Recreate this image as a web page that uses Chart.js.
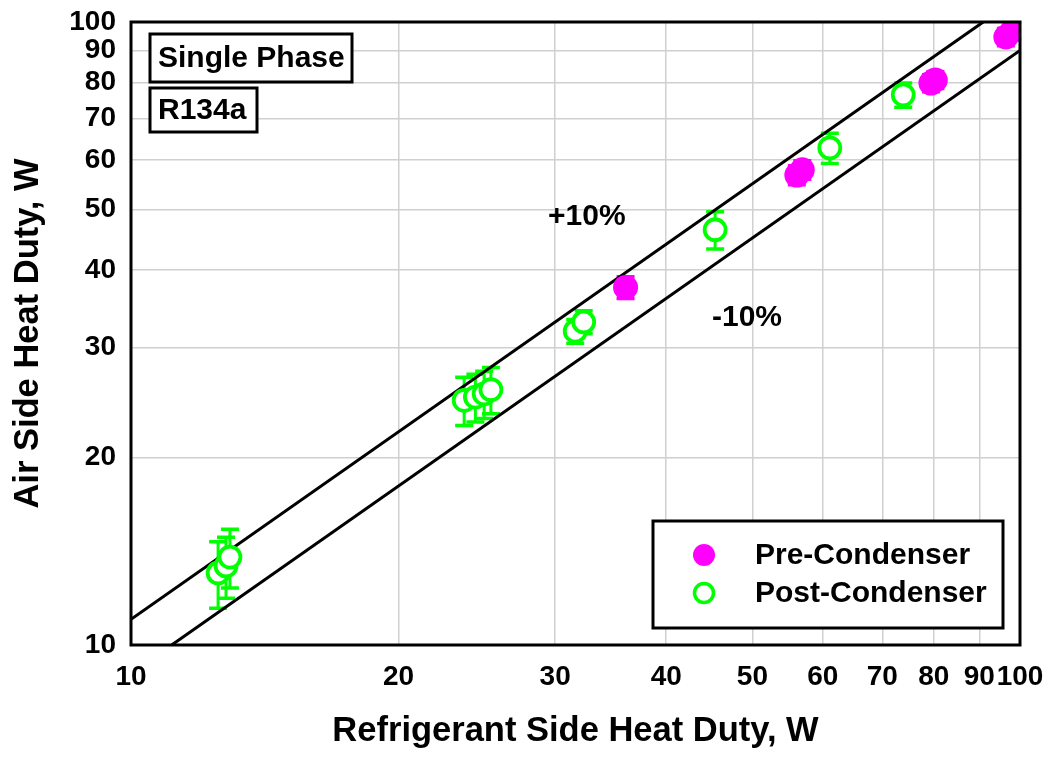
<!DOCTYPE html>
<html>
<head>
<meta charset="utf-8">
<title>Air vs Refrigerant Side Heat Duty</title>
<script src="https://cdn.jsdelivr.net/npm/chart.js@4.4.1/dist/chart.umd.min.js"></script>
<style>
    html, body { margin: 0; padding: 0; background: #fff; }
    #wrap { width: 1053px; height: 758px; position: relative; }
</style>
</head>
<body>
<div id="wrap"><canvas id="myChart" width="1053" height="758"></canvas></div>
<script>
    // data (W)
    const tickValues = [10, 20, 30, 40, 50, 60, 70, 80, 90, 100];

    const preRefrig = [36.0, 56.1, 56.9, 79.4, 80.3, 96.4, 98.0];
    const preAir = [37.5, 56.8, 57.9, 79.8, 80.7, 94.6, 96.7];
    const preErr = [1.5, 2.0, 2.0, 2.5, 2.5, 3.0, 3.0];

    const postRefrig = [12.53, 12.79, 12.92, 23.7, 24.4, 24.96, 25.4, 31.6, 32.3, 45.4, 61.1, 73.9];
    const postAir = [13.05, 13.39, 13.84, 24.7, 25.0, 25.3, 25.7, 31.9, 33.0, 46.4, 62.8, 76.4];
    const postErr = [1.6, 1.5, 1.5, 2.2, 2.2, 2.2, 2.2, 1.4, 1.4, 3.2, 3.5, 3.4];

    const plusBand = [{ x: 10, y: 11 }, { x: 100 / 1.1, y: 100 }];
    const minusBand = [{ x: 10 / 0.9, y: 10 }, { x: 100, y: 90 }];

    const FONT = "'Liberation Sans', Arial, sans-serif";
    const PINK = '#ff00ff';
    const GREEN = '#00ff00';

    function toPoints(xs, ys) {
        return xs.map((x, i) => ({ x: x, y: ys[i] }));
    }

    const errorBars = {
        id: 'errorBars',
        beforeDatasetsDraw(chart) {
            const ctx = chart.ctx;
            const sy = chart.scales.y;
            chart.data.datasets.forEach((ds, di) => {
                if (!ds.errors) return;
                const meta = chart.getDatasetMeta(di);
                ctx.save();
                ctx.strokeStyle = ds.borderColor;
                meta.data.forEach((pt, i) => {
                    const v = ds.data[i].y;
                    const e = ds.errors[i];
                    const yTop = sy.getPixelForValue(v + e);
                    const yBot = sy.getPixelForValue(v - e);
                    ctx.lineWidth = 3;
                    ctx.beginPath();
                    ctx.moveTo(pt.x, yTop);
                    ctx.lineTo(pt.x, yBot);
                    ctx.stroke();
                    ctx.lineWidth = 3.5;
                    ctx.beginPath();
                    ctx.moveTo(pt.x - 9, yTop);
                    ctx.lineTo(pt.x + 9, yTop);
                    ctx.moveTo(pt.x - 9, yBot);
                    ctx.lineTo(pt.x + 9, yBot);
                    ctx.stroke();
                });
                ctx.restore();
            });
        }
    };

    function _LabelBox(ctx, text, x, y, w, h) {
        ctx.lineWidth = 3;
        ctx.strokeStyle = '#000';
        ctx.fillStyle = '#fff';
        ctx.fillRect(x, y, w, h);
        ctx.strokeRect(x, y, w, h);
        ctx.fillStyle = '#000';
        ctx.textBaseline = 'middle';
        ctx.textAlign = 'left';
        ctx.fillText(text, x + 8, y + h / 2 + 1);
    }

    const decorations = {
        id: 'decorations',
        afterDraw(chart) {
            const ctx = chart.ctx;
            const a = chart.chartArea;
            ctx.save();

            // frame
            ctx.lineWidth = 3;
            ctx.strokeStyle = '#000';
            ctx.strokeRect(a.left, a.top, a.right - a.left, a.bottom - a.top);

            ctx.font = 'bold 30px ' + FONT;
            _LabelBox(ctx, 'Single Phase', a.left + 19, a.top + 12, 202, 48);
            _LabelBox(ctx, 'R134a', a.left + 19, a.top + 66, 107, 44);

            ctx.fillStyle = '#000';
            ctx.textBaseline = 'middle';
            ctx.textAlign = 'left';
            ctx.fillText('+10%', a.left + 417, a.top + 195);
            ctx.fillText('-10%', a.left + 581, a.top + 296);

            // legend
            const lx = a.left + 522, ly = a.top + 499, lw = 350, lh = 107;
            ctx.lineWidth = 3;
            ctx.fillStyle = '#fff';
            ctx.fillRect(lx, ly, lw, lh);
            ctx.strokeRect(lx, ly, lw, lh);

            const pre = chart.data.datasets[0];
            const post = chart.data.datasets[1];
            ctx.beginPath();
            ctx.arc(lx + 51, ly + 34, 11, 0, Math.PI * 2);
            ctx.fillStyle = pre.backgroundColor;
            ctx.fill();
            ctx.beginPath();
            ctx.arc(lx + 51, ly + 72, 9.5, 0, Math.PI * 2);
            ctx.fillStyle = '#fff';
            ctx.fill();
            ctx.lineWidth = 3.5;
            ctx.strokeStyle = post.borderColor;
            ctx.stroke();

            ctx.fillStyle = '#000';
            ctx.fillText(pre.label, lx + 102, ly + 35);
            ctx.fillText(post.label, lx + 102, ly + 73);
            ctx.restore();
        }
    };

    const config = {
        type: 'scatter',
        data: {
            datasets: [{
                label: 'Pre-Condenser',
                data: toPoints(preRefrig, preAir),
                errors: preErr,
                backgroundColor: PINK,
                borderColor: PINK,
                pointRadius: 12.5,
                pointBorderWidth: 0,
                order: 1
            }, {
                label: 'Post-Condenser',
                data: toPoints(postRefrig, postAir),
                errors: postErr,
                backgroundColor: '#fff',
                borderColor: GREEN,
                pointRadius: 10.5,
                pointBorderWidth: 3.8,
                order: 2
            }, {
                label: '+10%',
                type: 'line',
                data: plusBand,
                borderColor: '#000',
                borderWidth: 3,
                pointRadius: 0,
                order: 3
            }, {
                label: '-10%',
                type: 'line',
                data: minusBand,
                borderColor: '#000',
                borderWidth: 3,
                pointRadius: 0,
                order: 3
            }]
        },
        options: {
            responsive: false,
            animation: false,
            layout: { padding: { top: 22, right: 33, left: 0, bottom: 0 } },
            plugins: {
                legend: { display: false },
                tooltip: { enabled: false }
            },
            scales: {
                x: {
                    type: 'logarithmic',
                    min: 10,
                    max: 100,
                    afterBuildTicks: (axis) => { axis.ticks = tickValues.map(v => ({ value: v })); },
                    afterFit: (axis) => {
                        axis.height = 113;
                        axis.paddingLeft = 0;
                        axis.paddingRight = 0;
                    },
                    ticks: {
                        autoSkip: false,
                        maxRotation: 0,
                        padding: 15,
                        color: '#000',
                        font: { family: FONT, size: 28, weight: 'bold' },
                        callback: (v) => String(v)
                    },
                    grid: { color: '#d0d0d0', lineWidth: 1.5, drawTicks: false },
                    border: { display: false },
                    title: {
                        display: true,
                        text: 'Refrigerant Side Heat Duty, W',
                        color: '#000',
                        font: { family: FONT, size: 34.5, weight: 'bold', lineHeight: 1.2 },
                        padding: { top: 0, bottom: 6 }
                    }
                },
                y: {
                    type: 'logarithmic',
                    min: 10,
                    max: 100,
                    afterBuildTicks: (axis) => { axis.ticks = tickValues.map(v => ({ value: v })); },
                    afterFit: (axis) => {
                        axis.width = 131;
                        axis.paddingTop = 0;
                        axis.paddingBottom = 0;
                    },
                    ticks: {
                        autoSkip: false,
                        padding: 15,
                        color: '#000',
                        font: { family: FONT, size: 28, weight: 'bold' },
                        callback: (v) => String(v)
                    },
                    grid: { color: '#d0d0d0', lineWidth: 1.5, drawTicks: false },
                    border: { display: false },
                    title: {
                        display: true,
                        text: 'Air Side Heat Duty, W',
                        color: '#000',
                        font: { family: FONT, size: 34.5, weight: 'bold', lineHeight: 1.2 },
                        padding: { top: 8, bottom: 0 }
                    }
                }
            }
        },
        plugins: [errorBars, decorations]
    };

    new Chart(document.getElementById('myChart').getContext('2d'), config);
</script>
</body>
</html>
